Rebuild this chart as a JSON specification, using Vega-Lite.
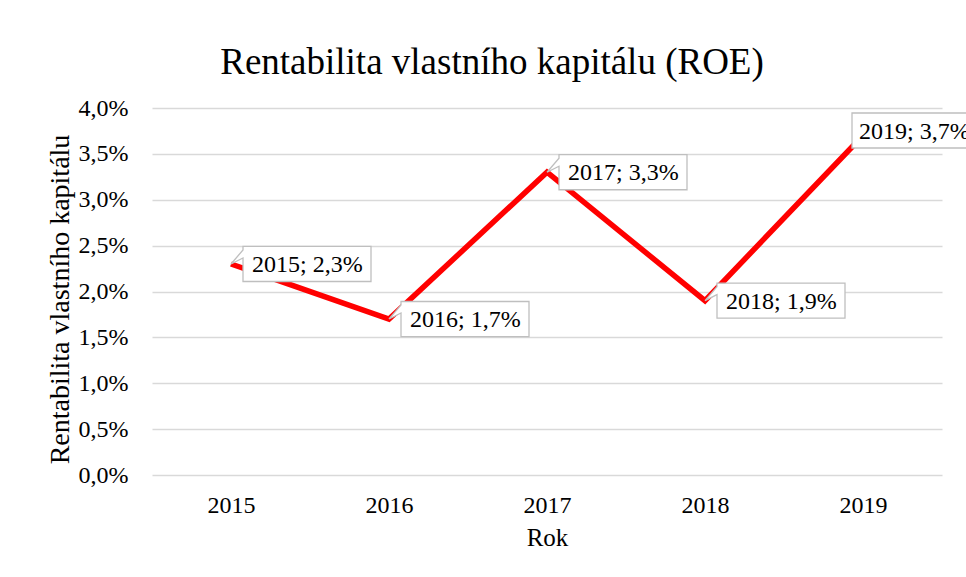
{
  "$schema": "https://vega.github.io/schema/vega-lite/v6.json",
  "width": 790,
  "height": 367,
  "autosize": {"type": "none"},
  "padding": {"left": 152, "top": 108, "right": 24, "bottom": 102},
  "background": "white",
  "config": {
    "locale": {"number": {"decimal": ",", "thousands": " ", "grouping": [3], "currency": ["", " Kč"]}},
    "view": {"stroke": null},
    "font": "Liberation Serif"
  },
  "title": {
    "text": "Rentabilita vlastního kapitálu (ROE)",
    "font": "Liberation Serif",
    "fontSize": 37,
    "fontWeight": "normal",
    "color": "#000000",
    "anchor": "middle",
    "frame": "group",
    "dx": -55,
    "offset": 14
  },
  "data": {
    "values": [
      {"Rok": 2015, "ROE": 0.023},
      {"Rok": 2016, "ROE": 0.017},
      {"Rok": 2017, "ROE": 0.033},
      {"Rok": 2018, "ROE": 0.019},
      {"Rok": 2019, "ROE": 0.037}
    ]
  },
  "transform": [
    {"calculate": "datum.Rok + '; ' + replace(format(datum.ROE, '.1%'), '.', ',')", "as": "popisek"}
  ],
  "encoding": {
    "x": {
      "field": "Rok",
      "type": "ordinal",
      "scale": {"type": "point", "padding": 0.5},
      "axis": {
        "title": "Rok",
        "labelAngle": 0,
        "labelFont": "Liberation Serif",
        "labelFontSize": 24,
        "labelColor": "#000000",
        "labelPadding": 18,
        "ticks": false,
        "tickSize": 0,
        "domain": false,
        "grid": false,
        "titleFont": "Liberation Serif",
        "titleFontSize": 25,
        "titleFontWeight": "normal",
        "titleColor": "#000000",
        "titlePadding": 8
      }
    },
    "y": {
      "field": "ROE",
      "type": "quantitative",
      "scale": {"domain": [0, 0.04], "nice": false, "zero": true},
      "axis": {
        "title": "Rentabilita vlastního kapitálu",
        "values": [0, 0.005, 0.01, 0.015, 0.02, 0.025, 0.03, 0.035, 0.04],
        "labelExpr": "replace(format(datum.value, '.1%'), '.', ',')",
        "labelFont": "Liberation Serif",
        "labelFontSize": 24,
        "labelColor": "#000000",
        "labelPadding": 24,
        "ticks": false,
        "tickSize": 0,
        "domain": false,
        "grid": true,
        "gridColor": "#D9D9D9",
        "gridWidth": 1.3,
        "titleFont": "Liberation Serif",
        "titleFontSize": 28,
        "titleFontWeight": "normal",
        "titleColor": "#000000",
        "titlePadding": 4,
        "titleY": 191
      }
    }
  },
  "layer": [
    {
      "mark": {"type": "line", "color": "#FF0000", "strokeWidth": 5.5, "strokeJoin": "miter", "strokeCap": "butt"}
    },
    {
      "mark": {"type": "point", "filled": true, "fill": "white", "stroke": "#BFBFBF", "strokeWidth": 1.3, "opacity": 1},
      "encoding": {
        "shape": {
          "field": "Rok",
          "type": "ordinal",
          "scale": {
            "domain": [2015, 2016, 2017, 2018, 2019],
            "range": [
              "M0.08,-0.1167L0.9333,-0.1167L0.9333,0.1167L0.08,0.1167L0.08,-0.04L0,0L0.08,-0.093Z",
              "M0.08,-0.1167L0.9333,-0.1167L0.9333,0.1167L0.08,0.1167L0.08,-0.04L0,0L0.08,-0.093Z",
              "M0.08,-0.1167L0.9333,-0.1167L0.9333,0.1167L0.08,0.1167L0.08,-0.04L0,0L0.08,-0.093Z",
              "M0.08,-0.1167L0.9333,-0.1167L0.9333,0.1167L0.08,0.1167L0.08,-0.04L0,0L0.08,-0.093Z",
              "M-0.0733,-0.15L0.86,-0.15L0.86,0.0833L-0.0733,0.0833Z"
            ]
          },
          "legend": null
        },
        "size": {"value": 90000}
      }
    },
    {
      "transform": [{"filter": "datum.Rok != 2019"}],
      "mark": {"type": "text", "align": "left", "baseline": "middle", "dx": 21, "dy": 1, "font": "Liberation Serif", "fontSize": 24, "color": "#000000"},
      "encoding": {"text": {"field": "popisek"}}
    },
    {
      "transform": [{"filter": "datum.Rok == 2019"}],
      "mark": {"type": "text", "align": "left", "baseline": "middle", "dx": -4, "dy": -4, "font": "Liberation Serif", "fontSize": 24, "color": "#000000"},
      "encoding": {"text": {"field": "popisek"}}
    }
  ]
}
